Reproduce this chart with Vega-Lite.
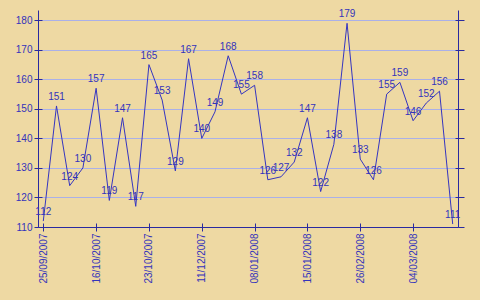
{
  "$schema": "https://vega.github.io/schema/vega-lite/v6.json",
  "autosize": "none",
  "width": 420,
  "height": 217,
  "padding": {"left": 38, "top": 10, "right": 22, "bottom": 73},
  "background": "#eed9a3",
  "config": {
    "view": {"stroke": null},
    "font": "Liberation Sans",
    "axis": {"labelFont": "Liberation Sans", "labelFontSize": 10, "labelColor": "#3333bb", "domainColor": "#2a2aa0", "tickColor": "#2a2aa0", "domainWidth": 1, "tickWidth": 1}
  },
  "data": {"values": [
    {"date": "25/09/2007", "v": 112},
    {"date": "02/10/2007", "v": 151},
    {"date": "09/10/2007", "v": 124},
    {"date": "12/10/2007", "v": 130},
    {"date": "16/10/2007", "v": 157},
    {"date": "17/10/2007", "v": 119},
    {"date": "18/10/2007", "v": 147},
    {"date": "19/10/2007", "v": 117},
    {"date": "23/10/2007", "v": 165},
    {"date": "06/11/2007", "v": 153},
    {"date": "20/11/2007", "v": 129},
    {"date": "04/12/2007", "v": 167},
    {"date": "11/12/2007", "v": 140},
    {"date": "18/12/2007", "v": 149},
    {"date": "25/12/2007", "v": 168},
    {"date": "01/01/2008", "v": 155},
    {"date": "08/01/2008", "v": 158},
    {"date": "09/01/2008", "v": 126},
    {"date": "10/01/2008", "v": 127},
    {"date": "11/01/2008", "v": 132},
    {"date": "15/01/2008", "v": 147},
    {"date": "29/01/2008", "v": 122},
    {"date": "05/02/2008", "v": 138},
    {"date": "12/02/2008", "v": 179},
    {"date": "26/02/2008", "v": 133},
    {"date": "27/02/2008", "v": 126},
    {"date": "28/02/2008", "v": 155},
    {"date": "29/02/2008", "v": 159},
    {"date": "04/03/2008", "v": 146},
    {"date": "05/03/2008", "v": 152},
    {"date": "06/03/2008", "v": 156},
    {"date": "07/03/2008", "v": 111}
  ]},
  "encoding": {
    "x": {"field": "date", "type": "ordinal", "sort": null, "scale": {"type": "point", "padding": 0.4}},
    "y": {"field": "v", "type": "quantitative", "scale": {"domain": [110, 183.5], "nice": false, "zero": false}}
  },
  "layer": [
    {
      "mark": {"type": "line", "color": "#3535c0", "strokeWidth": 1},
      "encoding": {
        "x": {"field": "date", "type": "ordinal", "sort": null, "scale": {"type": "point", "padding": 0.4},
          "axis": {"orient": "bottom", "title": null, "values": ["25/09/2007", "16/10/2007", "23/10/2007", "11/12/2007", "08/01/2008", "15/01/2008", "26/02/2008", "04/03/2008"], "labelAngle": -90, "tickSize": 4, "labelPadding": 2, "grid": false}},
        "y": {"field": "v", "type": "quantitative", "scale": {"domain": [110, 183.5], "nice": false, "zero": false},
          "axis": {"orient": "left", "title": null, "values": [110, 120, 130, 140, 150, 160, 170, 180], "tickSize": 4, "labelPadding": 2, "grid": true, "gridColor": "#aab0e8", "gridWidth": 1, "gridOpacity": 1}}
      }
    },
    {
      "mark": {"type": "text", "color": "#3333bb", "font": "Liberation Sans", "fontSize": 10, "dy": -9, "baseline": "middle", "align": "center"},
      "encoding": {
        "text": {"field": "v", "type": "quantitative"},
        "x": {"field": "date", "type": "ordinal", "sort": null, "scale": {"type": "point", "padding": 0.4},
          "axis": {"orient": "bottom", "title": null, "values": ["25/09/2007", "16/10/2007", "23/10/2007", "11/12/2007", "08/01/2008", "15/01/2008", "26/02/2008", "04/03/2008"], "offset": -4, "tickSize": 4, "labels": false, "domain": false, "grid": false}},
        "y": {"field": "v", "type": "quantitative", "scale": {"domain": [110, 183.5], "nice": false, "zero": false},
          "axis": {"orient": "left", "title": null, "values": [110, 120, 130, 140, 150, 160, 170, 180], "offset": -4, "tickSize": 4, "labels": false, "domain": false, "grid": false}}
      }
    },
    {
      "mark": {"type": "line", "opacity": 0},
      "encoding": {
        "x": {"field": "date", "type": "ordinal", "sort": null, "scale": {"type": "point", "padding": 0.4}, "axis": null},
        "y": {"field": "v", "type": "quantitative", "scale": {"domain": [110, 183.5], "nice": false, "zero": false},
          "axis": {"orient": "right", "title": null, "values": [110, 120, 130, 140, 150, 160, 170, 180], "tickSize": 6, "labels": false, "domain": true, "grid": false}}
      }
    },
    {
      "mark": {"type": "line", "opacity": 0},
      "encoding": {
        "x": {"field": "date", "type": "ordinal", "sort": null, "scale": {"type": "point", "padding": 0.4}, "axis": null},
        "y": {"field": "v", "type": "quantitative", "scale": {"domain": [110, 183.5], "nice": false, "zero": false},
          "axis": {"orient": "right", "title": null, "values": [110, 120, 130, 140, 150, 160, 170, 180], "offset": -3, "tickSize": 3, "labels": false, "domain": false, "grid": false}}
      }
    }
  ],
  "resolve": {"axis": {"x": "independent", "y": "independent"}}
}
